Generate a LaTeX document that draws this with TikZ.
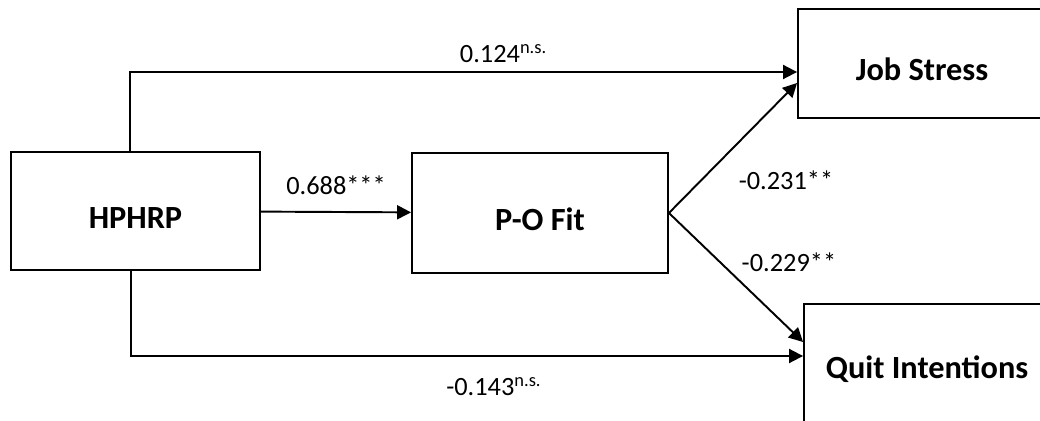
\documentclass[tikz,border=0pt]{standalone}
\usepackage{fontspec}
\setmainfont{Carlito}
\usepackage{tikz}
\usetikzlibrary{arrows.meta, positioning}

\begin{document}
\begin{tikzpicture}[
    x=0.02cm, y=-0.02cm,
    construct/.style={draw, rectangle, line width=1.1pt, align=center, text height=20.5pt, text depth=1pt, font=\fontsize{18.4}{22}\selectfont\bfseries},
    link/.style={draw, -{Triangle[length=0.28cm, width=0.28cm]}, line width=1.1pt},
    coef/.style={font=\fontsize{15}{18}\selectfont}
]
    \useasboundingbox (0,0) rectangle (1040,421);

    \node[construct, minimum width=4.98cm, minimum height=2.36cm] (hphrp) at (135.5,211) {HPHRP};
    \node[construct, minimum width=5.12cm, minimum height=2.4cm] (pofit) at (540,213) {P-O Fit};
    \node[construct, minimum width=4.96cm, minimum height=2.18cm] (stress) at (922,63.5) {Job Stress};
    \node[construct, minimum width=4.92cm, minimum height=2.56cm, text height=13pt] (quit) at (927,368) {Quit Intentions};

    \draw[link] (hphrp) -- (pofit) node[coef, midway, above=0.2cm] {0.688***};
    \draw[link] (pofit.east) -- ([yshift=-0.39cm]stress.west) node[coef, pos=0.25, right=0.62cm] {-0.231**};
    \draw[link] (pofit.east) -- ([yshift=0.52cm]quit.west) node[coef, pos=0.38, right=0.3cm] {-0.229**};

    % direct paths
    \draw[link] ([xshift=-0.11cm]hphrp.north) |- ([yshift=-0.17cm]stress.west)
        node[coef, pos=0.78, above=0.05cm] {0.124\textsuperscript{n.s.}};
    \draw[link] ([xshift=-0.09cm]hphrp.south) |- ([yshift=0.24cm]quit.west)
        node[coef, pos=0.77, below=0.3cm] {-0.143\textsuperscript{n.s.}};
\end{tikzpicture}
\end{document}
